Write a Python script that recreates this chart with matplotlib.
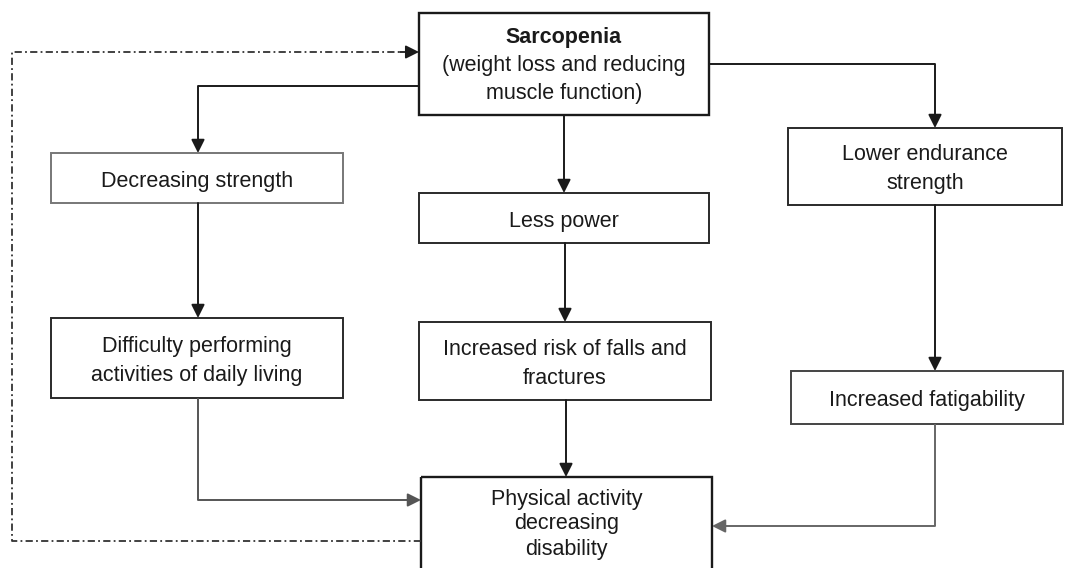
import matplotlib
matplotlib.use('Agg')
import matplotlib.pyplot as plt
from matplotlib.patches import Rectangle, FancyArrowPatch

# box labels
labels = [
    'Sarcopenia\n(weight loss and reducing\nmuscle function)',
    'Decreasing strength',
    'Less power',
    'Lower endurance\nstrength',
    'Difficulty performing\nactivities of daily living',
    'Increased risk of falls and\nfractures',
    'Increased fatigability',
    'Physical activity\ndecreasing\ndisability',
]

# layout in pixels: x0, y0, x1, y1 (y downwards)
boxes = [
    (419, 13, 709, 115),
    (51, 153, 343, 203),
    (419, 193, 709, 243),
    (788, 128, 1062, 205),
    (51, 318, 343, 398),
    (419, 322, 711, 400),
    (791, 371, 1063, 424),
    (421, 477, 712, 600),
]
edge_cols = ['#1a1a1a', '#777777', '#2a2a2a', '#2a2a2a', '#2a2a2a', '#2a2a2a', '#444444', '#1a1a1a']

plt.rcParams['font.family'] = ['Liberation Sans', 'DejaVu Sans']

fig = plt.figure(figsize=(10.73, 5.68), dpi=100)
ax = fig.add_axes([0, 0, 1, 1])
ax.set_xlim(0, 1073)
ax.set_ylim(568, 0)
ax.axis('off')

fs = 15.5
tc = '#1a1a1a'
dy = 3  # text sits a touch below the box centre
for i, (lab, b) in enumerate(zip(labels, boxes)):
    x0, y0, x1, y1 = b
    ax.add_patch(Rectangle((x0, y0), x1 - x0, y1 - y0, fill=False,
                           edgecolor=edge_cols[i], lw=1.7 if i in (0, 7) else 1.4))
    cx = (x0 + x1) / 2
    if i == 0:
        ax.text(cx, 37, 'Sarcopenia', ha='center', va='center', fontsize=fs,
                fontweight='bold', color=tc)
        ax.text(cx, 65, '(weight loss and reducing', ha='center', va='center', fontsize=fs, color=tc)
        ax.text(cx, 93, 'muscle function)', ha='center', va='center', fontsize=fs, color=tc)
    elif i == 7:
        for k, ln in enumerate(lab.split('\n')):
            ax.text(cx, 499 + 25 * k, ln, ha='center', va='center', fontsize=fs, color=tc)
    else:
        ax.text(cx, (y0 + y1) / 2 + dy, lab, ha='center', va='center', fontsize=fs,
                linespacing=1.5, color=tc)


def connector(pts, color='#1a1a1a', lw=1.4):
    xs = [p[0] for p in pts]
    ys = [p[1] for p in pts]
    ax.plot(xs[:-1], ys[:-1], color=color, lw=lw, solid_capstyle='butt')
    ax.add_patch(FancyArrowPatch(pts[-2], pts[-1], arrowstyle='-|>', mutation_scale=20,
                                 color=color, lw=lw, shrinkA=0, shrinkB=0))


# connections
connector([(419, 86), (198, 86), (198, 153)])
connector([(564, 115), (564, 193)])
connector([(709, 64), (935, 64), (935, 128)])
connector([(198, 203), (198, 318)])
connector([(565, 243), (565, 322)])
connector([(935, 205), (935, 371)])
connector([(198, 398), (198, 500), (421, 500)], color='#555555')
connector([(566, 400), (566, 477)])
connector([(935, 424), (935, 526), (712, 526)], color='#666666')

# feedback loop (dash-dot)
ax.plot([421, 12, 12, 405], [541, 541, 52, 52], color='#333333', lw=1.3,
        ls=(0, (4, 1.8, 1, 1.8)))
ax.add_patch(FancyArrowPatch((400, 52), (419, 52), arrowstyle='-|>', mutation_scale=20,
                             color='#1a1a1a', lw=1.3, shrinkA=0, shrinkB=0))

fig.savefig('out.png', dpi=100)
